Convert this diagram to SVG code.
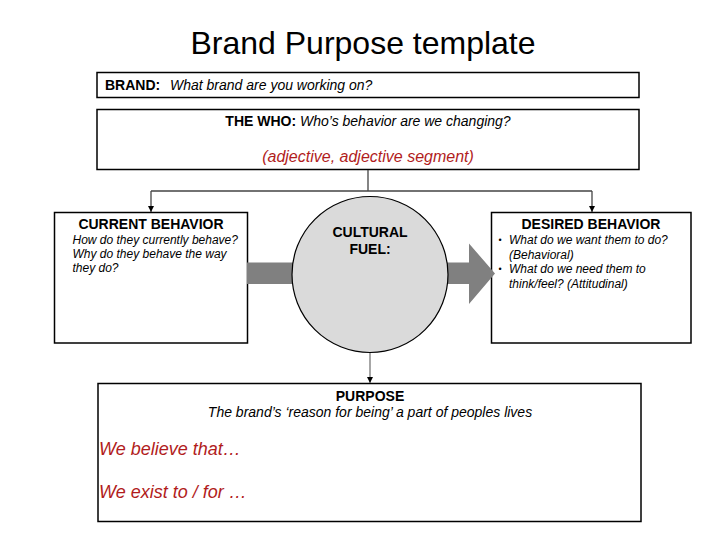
<svg xmlns="http://www.w3.org/2000/svg" width="728" height="546" viewBox="0 0 728 546">
  <defs>
    <style>
      text { font-family: "Liberation Sans", Arial, sans-serif; fill: #000; }
      .box { fill: #fff; stroke: #000; stroke-width: 1.5; }
      .b14 { font-size: 14px; font-weight: bold; }
      .i14 { font-size: 14px; font-style: italic; }
      .i12 { font-size: 12px; font-style: italic; }
      .red { fill: #b11c1c; font-style: italic; }
      .conn { fill: none; stroke: #444; stroke-width: 1.3; }
      .mid { text-anchor: middle; }
    </style>
    <marker id="arr" viewBox="0 0 10 10" refX="10" refY="5" markerWidth="6" markerHeight="6" markerUnits="userSpaceOnUse" orient="auto">
      <path d="M0,0 L10,5 L0,10 z" fill="#000"/>
    </marker>
  </defs>
  <rect width="728" height="546" fill="#fff"/>

  <text x="363" y="54" class="mid" style="font-size:32px">Brand Purpose template</text>

  <g id="brand">
    <rect class="box" x="97" y="72.5" width="542" height="25"/>
    <text x="105" y="90"><tspan class="b14">BRAND:</tspan><tspan class="i14" x="170">What brand are you working on?</tspan></text>
  </g>

  <g id="the-who">
    <rect class="box" x="97" y="109.5" width="542" height="60"/>
    <text x="368" y="126" class="mid"><tspan class="b14">THE WHO:</tspan><tspan class="i14"> Who’s behavior are we changing?</tspan></text>
    <text x="368" y="162" class="mid red" style="font-size:16px">(adjective, adjective segment)</text>
  </g>

  <g id="current-behavior">
    <rect class="box" x="54.5" y="212.5" width="193" height="130.5"/>
    <text x="151" y="229" class="mid b14">CURRENT BEHAVIOR</text>
    <text class="i12">
      <tspan x="72.5" y="244">How do they currently behave?</tspan>
      <tspan x="72.5" y="258">Why do they behave the way</tspan>
      <tspan x="72.5" y="272">they do?</tspan>
    </text>
  </g>

  <g id="desired-behavior">
    <rect class="box" x="491.5" y="212.5" width="199.5" height="130.5"/>
    <text x="591" y="229" class="mid b14">DESIRED BEHAVIOR</text>
    <text style="font-size:9px"><tspan x="498.5" y="243">•</tspan><tspan x="498.5" y="272">•</tspan></text>
    <text class="i12">
      <tspan x="509" y="244">What do we want them to do?</tspan>
      <tspan x="509" y="258.5">(Behavioral)</tspan>
      <tspan x="509" y="273">What do we need them to</tspan>
      <tspan x="509" y="287.5">think/feel? (Attitudinal)</tspan>
    </text>
  </g>

  <g id="purpose">
    <rect class="box" x="98" y="383.5" width="543" height="138"/>
    <text x="370" y="401" class="mid b14">PURPOSE</text>
    <text x="370" y="417" class="mid i14">The brand’s ‘reason for being’ a part of peoples lives</text>
    <text x="99" y="455" class="red" style="font-size:18px">We believe that…</text>
    <text x="99" y="498" class="red" style="font-size:18px">We exist to / for …</text>
  </g>

  <g id="connectors">
    <path class="conn" d="M368 170 V191 M151 191 H592"/>
    <path class="conn" d="M151 191 V212" marker-end="url(#arr)"/>
    <path class="conn" d="M592 191 V212" marker-end="url(#arr)"/>
    <path class="conn" d="M370 352 V383" stroke="#777" marker-end="url(#arr)" style="stroke:#777"/>
    <polygon id="flow-arrow" points="247,262.5 469,262.5 469,243.5 495,273.5 469,304 469,284 247,284" fill="#808080"/>
  </g>

  <g id="cultural-fuel">
    <circle cx="370" cy="274.5" r="78" fill="#dadada" stroke="#000" stroke-width="1.2"/>
    <text x="370" y="237" class="mid b14">CULTURAL</text>
    <text x="370" y="253.5" class="mid b14">FUEL:</text>
  </g>
</svg>
